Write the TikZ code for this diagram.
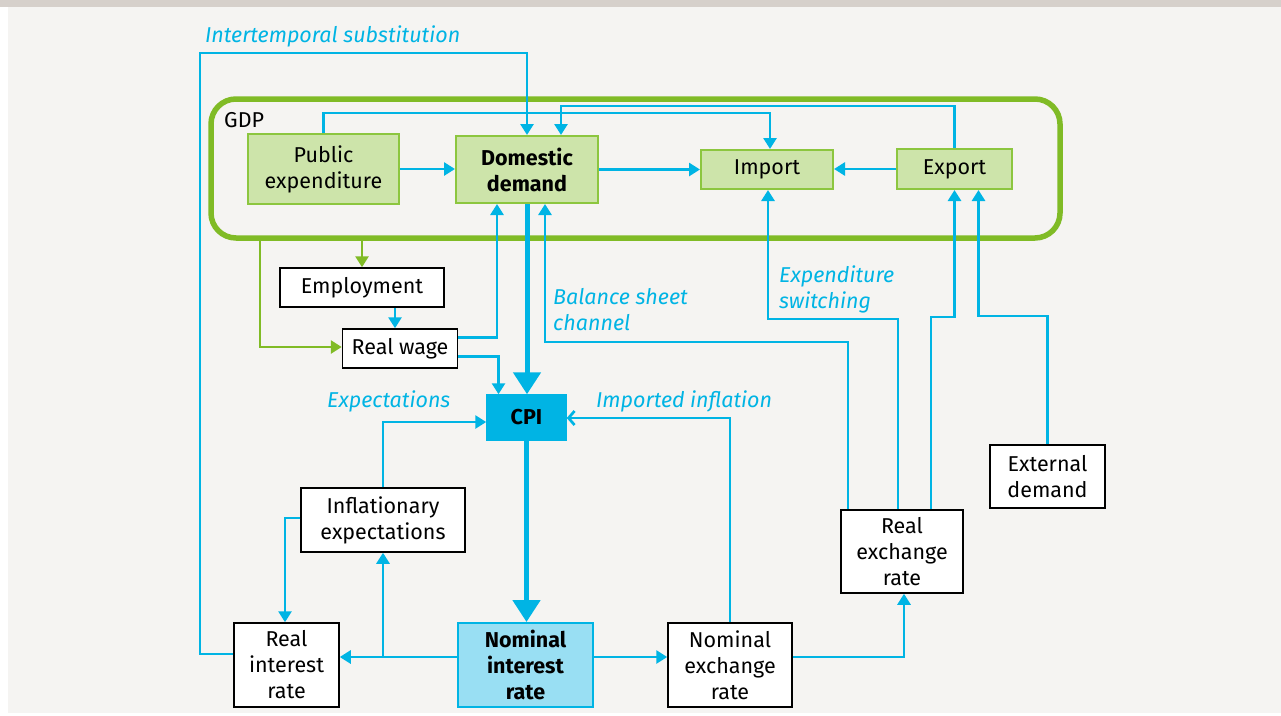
\documentclass[tikz,border=0pt]{standalone}
\usepackage{fontspec}
\setmainfont{Fira Sans}
\usetikzlibrary{arrows.meta,calc}

\definecolor{flow}{RGB}{0,180,228}
\definecolor{gdpgreen}{RGB}{128,187,38}
\definecolor{leafline}{RGB}{140,198,63}
\definecolor{leaffill}{RGB}{205,228,170}
\definecolor{ratefill}{RGB}{153,223,243}
\definecolor{panel}{RGB}{245,244,242}
\definecolor{band}{RGB}{214,208,203}

\tikzset{
  txt/.style={font=\fontsize{21.5}{26}\selectfont},
  box/.style={txt, draw=black, line width=1.5pt, fill=white, align=center,
    inner sep=0pt, text=black},
  gbox/.style={box, draw=leafline, fill=leaffill, line width=2pt},
  flowline/.style={draw=flow, line width=2.7pt},
  arr/.style={flowline, -{Triangle[length=11pt,width=13pt]}},
  barb/.style={flowline, -{Straight Barb[length=6pt,width=14pt,line width=2.7pt]}},
  bigarr/.style={draw=flow, line width=5pt, -{Triangle[length=22pt,width=27pt]}},
  garr/.style={draw=gdpgreen, line width=2.7pt, -{Triangle[length=11pt,width=13pt]}},
  lab/.style={txt, text=flow, font=\fontsize{21.5}{26}\selectfont\itshape,
    inner sep=0pt, align=left}
}

\begin{document}
\begin{tikzpicture}[x=1pt,y=-1pt]
  % page and panel
  \fill[white] (0,0) rectangle (1281,715);
  \useasboundingbox (0,0) rectangle (1281,715);
  \fill[band] (0,0) rectangle (1281,7);
  \fill[panel] (8,7) rectangle (1281,713);

  % GDP frame
  \node[draw=gdpgreen, line width=5.5pt, rounded corners=25pt,
        minimum width=849pt, minimum height=139pt, inner sep=0pt] (gdp) at (635.5,168.5) {};
  \node[txt, anchor=base west, inner sep=0pt] (gdplab) at (224,127) {GDP};

  % nodes
  \node[gbox, minimum width=151pt, minimum height=70pt] (pub) at (323.5,169) {Public\\expenditure};
  \node[gbox, minimum width=142pt, minimum height=67pt, font=\fontsize{21.5}{26}\selectfont\bfseries] (dom) at (527,169.5) {Domestic\\demand};
  \node[gbox, minimum width=132pt, minimum height=39pt] (imp) at (767,169.5) {Import};
  \node[gbox, minimum width=115pt, minimum height=40pt] (exp) at (954.5,169) {Export};
  \node[box, minimum width=164pt, minimum height=39pt] (emp) at (362,287.5) {Employment};
  \node[box, minimum width=115pt, minimum height=39pt] (rw) at (400,348.5) {Real wage};
  \node[box, draw=flow, fill=flow, minimum width=79pt, minimum height=45pt,
        font=\fontsize{21.5}{26}\selectfont\bfseries] (cpi) at (526.5,417.5) {CPI};
  \node[box, minimum width=164pt, minimum height=64pt] (infl) at (383,520) {Inflationary\\expectations};
  \node[box, minimum width=105pt, minimum height=84pt] (rir) at (286.5,665) {Real\\interest\\rate};
  \node[box, draw=flow, fill=ratefill, line width=2pt, minimum width=135pt, minimum height=84pt,
        font=\fontsize{21.5}{26}\selectfont\bfseries] (nir) at (525.5,665) {Nominal\\interest\\rate};
  \node[box, minimum width=124pt, minimum height=84pt] (ner) at (730,665) {Nominal\\exchange\\rate};
  \node[box, minimum width=122pt, minimum height=83pt] (rer) at (902,551.5) {Real\\exchange\\rate};
  \node[box, minimum width=115pt, minimum height=63pt] (ext) at (1047.5,476.5) {External\\demand};

  % channel labels
  \node[lab, anchor=base west] (l1) at (205,42) {Intertemporal substitution};
  \node[lab, anchor=north west] (l2) at (553,288) {Balance sheet\\channel};
  \node[lab, anchor=north west] (l3) at (779,266) {Expenditure\\switching};
  \node[lab, anchor=base west] (l4) at (327,407) {Expectations};
  \node[lab, anchor=base west] (l5) at (596,407) {Imported inflation};

  % bend points
  \coordinate (isL) at (200,654);
  \coordinate (isT) at (200,53);
  \coordinate (pubT) at (600,113);
  \coordinate (expT) at (700,106);
  \coordinate (bsH) at (700,342);
  \coordinate (esH) at (850,319);
  \coordinate (reH) at (943,317);
  \coordinate (edH) at (1010,316);
  \coordinate (branch) at (383,657);
  \coordinate (gL) at (260,300);

  % intertemporal substitution
  \draw[arr] (rir.west |- isL) -- (isL) -- (isT) -| (dom.north);
  % flows inside GDP
  \draw[arr] (pub.north) |- (pubT) -| ($(imp.north)+(3,0)$);
  \draw[arr] (exp.north) |- (expT) -| ($(dom.north)+(34,0)$);
  \draw[arr] (pub.east) -- (pub.east -| dom.west);
  \draw[arr] (dom.east) -- (dom.east -| imp.west);
  \draw[arr] (exp.west) -- (exp.west -| imp.east);

  % main chain
  \draw[bigarr] (dom.south) -- (dom.south |- cpi.north);
  \draw[bigarr] (cpi.south) -- (cpi.south |- nir.north);

  % labour market
  \draw[garr] (gdp.south -| emp.north) -- (emp.north);
  \draw[garr] (gdp.south -| gL) |- ($(rw.west)+(0,-1.5)$);
  \draw[arr] ($(emp.south)+(33,0)$) -- ($(rw.north)+(-5,0)$);
  \draw[arr] ($(rw.east)+(0,-11)$) -| ($(dom.south)+(-30,0)$);
  \draw[arr] ($(rw.east)+(0,8)$) -| ($(cpi.north)+(-28,0)$);

  % exchange rate channels
  \draw[arr] ($(rer.north)+(-54,0)$) |- (bsH) -| ($(dom.south)+(18,0)$);
  \draw[arr] ($(rer.north)+(-4,0)$) |- (esH) -| ($(imp.south)+(1,0)$);
  \draw[arr] ($(rer.north)+(29,0)$) |- (reH) -| (exp.south);
  \draw[arr] (ext.north) |- (edH) -| ($(exp.south)+(24,0)$);
  \draw[arr] ($(ner.east)+(0,-8)$) -| ($(rer.south)+(2,0)$);
  \draw[barb] (ner.north) |- ($(cpi.east)+(0,0.5)$);

  % interest rates and expectations
  \draw[arr] ($(nir.east)+(0,-8)$) -- ($(ner.west)+(0,-8)$);
  \draw[arr] ($(nir.west)+(0,-8)$) -- ($(rir.east)+(0,-8)$);
  \draw[arr] (branch) -- (infl.south);
  \draw[arr] (infl.north) |- ($(cpi.west)+(0,4.5)$);
  \draw[arr] ($(infl.west)+(0,-2)$) -| ($(rir.north)+(-1.5,0)$);
\end{tikzpicture}
\end{document}
